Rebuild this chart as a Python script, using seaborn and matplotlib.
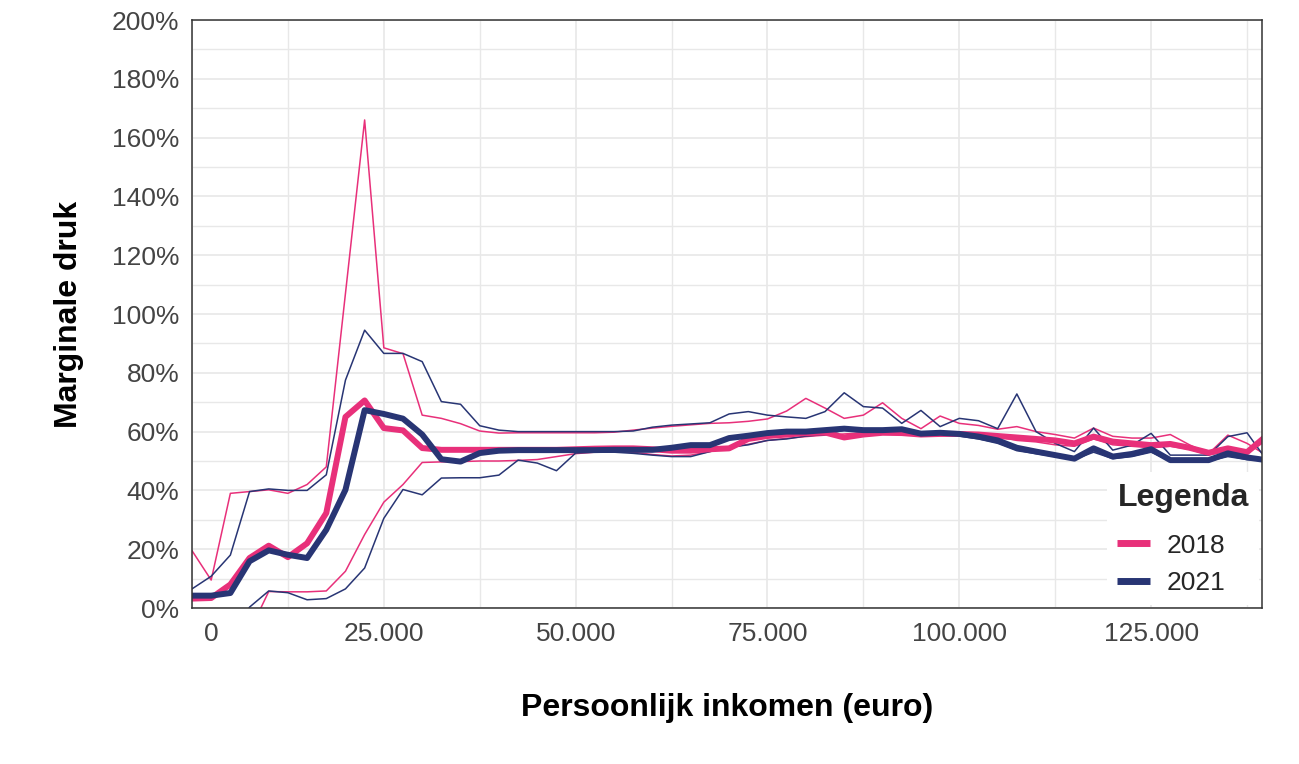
import numpy as np
import pandas as pd
import matplotlib
matplotlib.use("Agg")
import matplotlib.pyplot as plt
import matplotlib.transforms as mtransforms
from matplotlib.ticker import FixedLocator, MultipleLocator, FuncFormatter
from matplotlib.lines import Line2D
import seaborn as sns

# ---------------- data (marginale druk in %) ----------------
inkomen = list(range(0, 140001, 2500))
jaren = ["2018", "2021"]

p18_hoog = [19.5, 9.5, 39, 39.6, 40.2, 39, 42, 48, 107, 166,
            88.5, 86.5, 65.6, 64.5, 62.7, 60.2, 59.5, 59.6, 59.6, 59.6,
            59.6, 59.6, 59.8, 60.5, 61.2, 61.8, 62.3, 62.8, 63, 63.5,
            64.3, 67, 71.3, 68, 64.5, 65.6, 69.8, 64.5, 61, 65.3,
            62.8, 62.1, 60.8, 61.7, 60, 59, 57.8, 61.2, 58.4, 57.8,
            57.8, 59, 55.5, 52.5, 58.8, 56, 52]
p18_mediaan = [3.2, 3.4, 8, 17, 21.2, 17.3, 22, 32.3, 65, 70.6,
               61.2, 60.4, 54.4, 53.8, 53.8, 53.8, 53.8, 53.8, 53.8, 53.8,
               54, 54.2, 54.3, 54.3, 54, 53.5, 53.5, 54, 54.3, 57.5,
               58.5, 59, 59.5, 59.7, 58, 59, 59.6, 59.5, 59, 59.2,
               59.2, 59, 58.5, 58, 57.5, 57, 56, 58.3, 56.6, 56,
               55.4, 55.8, 54.5, 52.8, 54.3, 53, 58.5]
p18_laag = [-12, -12, -12, -8, 5.6, 5.5, 5.5, 5.8, 12.5, 25,
            36, 42, 49.5, 49.7, 49.8, 50, 50, 50.2, 50.5, 51.5,
            52.5, 53, 53.2, 53, 52.2, 51.7, 52, 53.2, 54.5, 55.7,
            57, 57.7, 58.3, 58.8, 59.2, 59.6, 59.5, 59.3, 59, 59.3,
            59, 58.5, 58.3, 57, 56.5, 55.5, 55, 57.5, 55.5, 55,
            54.5, 55, 54, 52, 53.5, 52.5, 57]

p21_hoog = [6.5, 10.8, 18, 39.6, 40.5, 40, 40, 45.3, 77.5, 94.5,
            86.6, 86.6, 83.8, 70.2, 69.3, 62, 60.5, 60, 60, 60,
            60, 60, 60, 60.2, 61.5, 62.2, 62.6, 63, 66, 66.8,
            65.6, 65, 64.5, 66.8, 73.2, 68.5, 68, 62.8, 67.2, 61.7,
            64.5, 63.7, 61, 72.8, 60, 56, 53.2, 61.2, 53.7, 55.4,
            59.4, 52, 52, 52, 58.3, 59.6, 50.5]
p21_mediaan = [4.2, 4.2, 5.1, 15.9, 19.6, 18.1, 17, 26.6, 40.2, 67.3,
               66, 64.4, 59, 50.6, 49.8, 52.7, 53.5, 53.7, 53.7, 53.7,
               53.7, 53.7, 53.8, 53.8, 53.8, 54.5, 55.4, 55.4, 57.8, 58.6,
               59.5, 60, 60, 60.5, 61, 60.5, 60.5, 60.8, 59.3, 59.6,
               59.2, 58.3, 57, 54.5, 53.2, 52, 50.8, 54.3, 51.5, 52.4,
               54, 50.3, 50.3, 50.3, 52.6, 51.2, 50.3]
p21_laag = [-15, -15, -12, 0.3, 5.8, 5.2, 2.8, 3.2, 6.5, 13.6,
            30.5, 40.3, 38.5, 44.2, 44.3, 44.3, 45.2, 50.3, 49.3, 46.7,
            52.7, 53, 53, 52.6, 52, 51.5, 51.5, 53.2, 54.7, 55.5,
            57, 57.5, 58.5, 59, 60.5, 59.8, 59.5, 59.5, 58.5, 59,
            58.5, 57.5, 56, 53.5, 52.5, 51.5, 50.5, 53, 50.8, 51.5,
            53, 50, 50, 50, 51.5, 50.5, 50]

x_ticks = [0, 25000, 50000, 75000, 100000, 125000]

# ---------------- long table ----------------
rows = []
for jaar, stat, vals in [("2018", "hoog", p18_hoog), ("2018", "mediaan", p18_mediaan),
                         ("2018", "laag", p18_laag), ("2021", "hoog", p21_hoog),
                         ("2021", "mediaan", p21_mediaan), ("2021", "laag", p21_laag)]:
    for x, v in zip(inkomen, vals):
        rows.append((jaar, stat, x, v))
df = pd.DataFrame(rows, columns=["jaar", "stat", "inkomen", "druk"])

kleuren = {"2018": "#E8307A", "2021": "#283574"}

sns.set_theme(style="white")
plt.rcParams["font.family"] = ["Liberation Sans", "DejaVu Sans"]

fig = plt.figure(figsize=(12.99, 7.64), dpi=100)
ax = fig.add_axes([192 / 1299, 156 / 764, 1070 / 1299, 588 / 764])

dun = df[df["stat"] != "mediaan"]
sns.lineplot(data=dun, x="inkomen", y="druk", hue="jaar", units="stat",
             estimator=None, palette=kleuren, hue_order=jaren,
             linewidth=1.1, legend=False, ax=ax)
dik = df[df["stat"] == "mediaan"]
sns.lineplot(data=dik, x="inkomen", y="druk", hue="jaar", estimator=None,
             palette=kleuren, hue_order=jaren, linewidth=4.3,
             legend=False, ax=ax)

ax.set_xlim(0, 139450)
ax.set_ylim(0, 200)

ax.xaxis.set_major_locator(FixedLocator(x_ticks))
ax.xaxis.set_minor_locator(FixedLocator([t + 12500 for t in x_ticks]))
ax.xaxis.set_major_formatter(FuncFormatter(lambda v, p: f"{int(round(v)):,}".replace(",", ".")))
ax.yaxis.set_major_locator(MultipleLocator(20))
ax.yaxis.set_minor_locator(MultipleLocator(10))
ax.yaxis.set_major_formatter(FuncFormatter(lambda v, p: f"{int(round(v))}%"))

ax.grid(which="major", color="#E8E8E8", linewidth=1.2)
ax.grid(which="minor", color="#E8E8E8", linewidth=1.0)
ax.set_axisbelow(True)
for s in ax.spines.values():
    s.set_visible(True)
    s.set_color("#333333")
    s.set_linewidth(1.1)

ax.tick_params(which="both", length=0, labelsize=19, labelcolor="#444444")
ax.tick_params(axis="x", pad=10)
ax.tick_params(axis="y", pad=9)

ax.set_xlabel("Persoonlijk inkomen (euro)", fontsize=23, fontweight="bold",
              color="black", labelpad=34)
ax.set_ylabel("Marginale druk", fontsize=23, fontweight="bold",
              color="black", labelpad=20)

# shift the "0" label slightly to the right as in the reference
t0 = ax.xaxis.get_major_ticks()[0]
t0.label1.set_transform(t0.label1.get_transform() +
                        mtransforms.ScaledTranslation(19 / 100, 0, fig.dpi_scale_trans))

handles = [Line2D([0], [0], color=kleuren[j], lw=5, solid_capstyle="butt") for j in jaren]
leg = ax.legend(handles, jaren, title="Legenda", loc="lower right",
                fontsize=19, title_fontproperties={"weight": "bold", "size": 23},
                alignment="left", handlelength=1.25, handletextpad=0.6,
                borderaxespad=0.1, labelspacing=0.5, frameon=True,
                fancybox=False, framealpha=1.0)
leg.get_frame().set_facecolor("white")
leg.get_frame().set_edgecolor("none")
leg._legend_box.sep = 15

fig.savefig("out.png", dpi=100)
